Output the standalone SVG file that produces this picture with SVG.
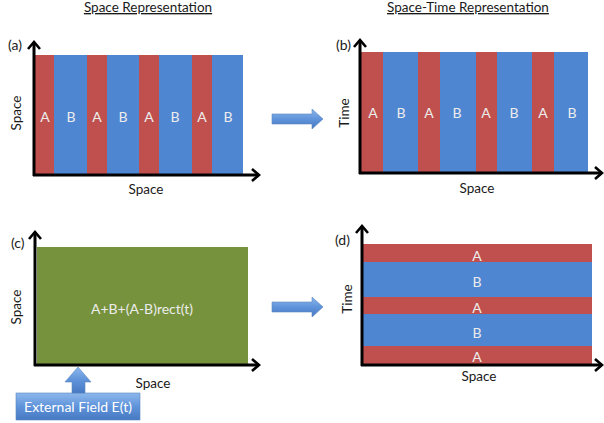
<svg xmlns="http://www.w3.org/2000/svg" width="604" height="423" viewBox="0 0 604 423">
<defs>
<style>
text{font-family:Lato,"Open Sans","Liberation Sans",sans-serif;}
.t{font-size:13.5px;fill:#1a1a1a;text-anchor:middle;}
.title{font-size:13.5px;fill:#1a1a1a;text-anchor:middle;text-decoration:underline;}
.lbl{font-size:14px;fill:#ececec;text-anchor:middle;}
.pl{font-size:14px;fill:#1a1a1a;}
.r{fill:#C0504D;}
.b{fill:#4F86D1;}
.g{fill:#76923C;}
.ax{stroke:#000;stroke-width:3;fill:none;marker-end:url(#ah);}
.blk{fill:url(#bg);stroke:#5a86c0;stroke-width:0.6;}
</style>
<marker id="ah" markerUnits="userSpaceOnUse" viewBox="-10 -8 12 16" markerWidth="12" markerHeight="16" refX="0" refY="0" orient="auto" overflow="visible">
<path d="M-7,-6 L0,0 L-7,6" fill="none" stroke="#000" stroke-width="2.6" stroke-linejoin="miter"/>
</marker>
<linearGradient id="bg" x1="0" y1="0" x2="0" y2="1">
<stop offset="0" stop-color="#8DB8EC"/>
<stop offset="0.5" stop-color="#5F93DA"/>
<stop offset="1" stop-color="#4679C2"/>
</linearGradient>
</defs>

<text class="title" x="148" y="12">Space Representation</text>
<text class="title" x="468" y="12">Space-Time Representation</text>

<g id="panel-a">
<rect class="r" x="35" y="55" width="19" height="120"/>
<rect class="b" x="54" y="55" width="33" height="120"/>
<rect class="r" x="87" y="55" width="20" height="120"/>
<rect class="b" x="107" y="55" width="32" height="120"/>
<rect class="r" x="139" y="55" width="20" height="120"/>
<rect class="b" x="159" y="55" width="33" height="120"/>
<rect class="r" x="192" y="55" width="20" height="120"/>
<rect class="b" x="212" y="55" width="31" height="120"/>
<text class="lbl" x="45" y="122">A</text>
<text class="lbl" x="71" y="122">B</text>
<text class="lbl" x="97" y="122">A</text>
<text class="lbl" x="123" y="122">B</text>
<text class="lbl" x="149" y="122">A</text>
<text class="lbl" x="175" y="122">B</text>
<text class="lbl" x="202" y="122">A</text>
<text class="lbl" x="228" y="122">B</text>
<path class="ax" d="M34,176 L34,42"/>
<path class="ax" d="M33,175 L259,175"/>
<text class="pl" x="8" y="50">(a)</text>
<text class="t" transform="translate(21,113) rotate(-90)">Space</text>
<text class="t" x="146" y="194">Space</text>
</g>

<g id="panel-b">
<rect class="r" x="361" y="52" width="22" height="121"/>
<rect class="b" x="383" y="52" width="35" height="121"/>
<rect class="r" x="418" y="52" width="22" height="121"/>
<rect class="b" x="440" y="52" width="36" height="121"/>
<rect class="r" x="476" y="52" width="21" height="121"/>
<rect class="b" x="497" y="52" width="35" height="121"/>
<rect class="r" x="532" y="52" width="22" height="121"/>
<rect class="b" x="554" y="52" width="34" height="121"/>
<text class="lbl" x="373" y="118">A</text>
<text class="lbl" x="401" y="118">B</text>
<text class="lbl" x="429" y="118">A</text>
<text class="lbl" x="457" y="118">B</text>
<text class="lbl" x="486" y="118">A</text>
<text class="lbl" x="514" y="118">B</text>
<text class="lbl" x="543" y="118">A</text>
<text class="lbl" x="572" y="118">B</text>
<path class="ax" d="M360,174 L360,40"/>
<path class="ax" d="M359,173 L602,173"/>
<text class="pl" x="336" y="50">(b)</text>
<text class="t" transform="translate(349,113) rotate(-90)">Time</text>
<text class="t" x="477" y="193">Space</text>
</g>

<g id="panel-c">
<rect class="g" x="37" y="247" width="211" height="118"/>
<text class="lbl" x="142" y="314">A+B+(A-B)rect(t)</text>
<path class="ax" d="M35,366 L35,232"/>
<path class="ax" d="M34,365 L259,365"/>
<text class="pl" x="11" y="248">(c)</text>
<text class="t" transform="translate(21,307) rotate(-90)">Space</text>
<text class="t" x="153" y="388">Space</text>
</g>

<g id="panel-d">
<rect class="r" x="363" y="244" width="229" height="18"/>
<rect class="b" x="363" y="262" width="229" height="35"/>
<rect class="r" x="363" y="297" width="229" height="17"/>
<rect class="b" x="363" y="314" width="229" height="32"/>
<rect class="r" x="363" y="346" width="229" height="19"/>
<text class="lbl" x="477" y="261">A</text>
<text class="lbl" x="477" y="287">B</text>
<text class="lbl" x="477" y="313">A</text>
<text class="lbl" x="477" y="338">B</text>
<text class="lbl" x="477" y="362">A</text>
<path class="ax" d="M362,366 L362,226"/>
<path class="ax" d="M361,365 L602,365"/>
<text class="pl" x="335" y="245">(d)</text>
<text class="t" transform="translate(352,299) rotate(-90)">Time</text>
<text class="t" x="479" y="381">Space</text>
</g>

<g id="external-field">
<rect class="blk" x="16" y="393" width="124" height="27"/>
<text x="78" y="412" style="font-size:14px;fill:#ffffff;text-anchor:middle;">External Field E(t)</text>
</g>

<g id="connectors">
<path class="blk" d="M272,114 L312,114 L312,109 L323,119 L312,129 L312,124 L272,124 Z"/>
<path class="blk" d="M272,302 L312,302 L312,297 L323,307 L312,317 L312,312 L272,312 Z"/>
<path class="blk" d="M72,393 L72,382 L65,382 L78,367 L91,382 L85,382 L85,393 Z"/>
</g>
</svg>
